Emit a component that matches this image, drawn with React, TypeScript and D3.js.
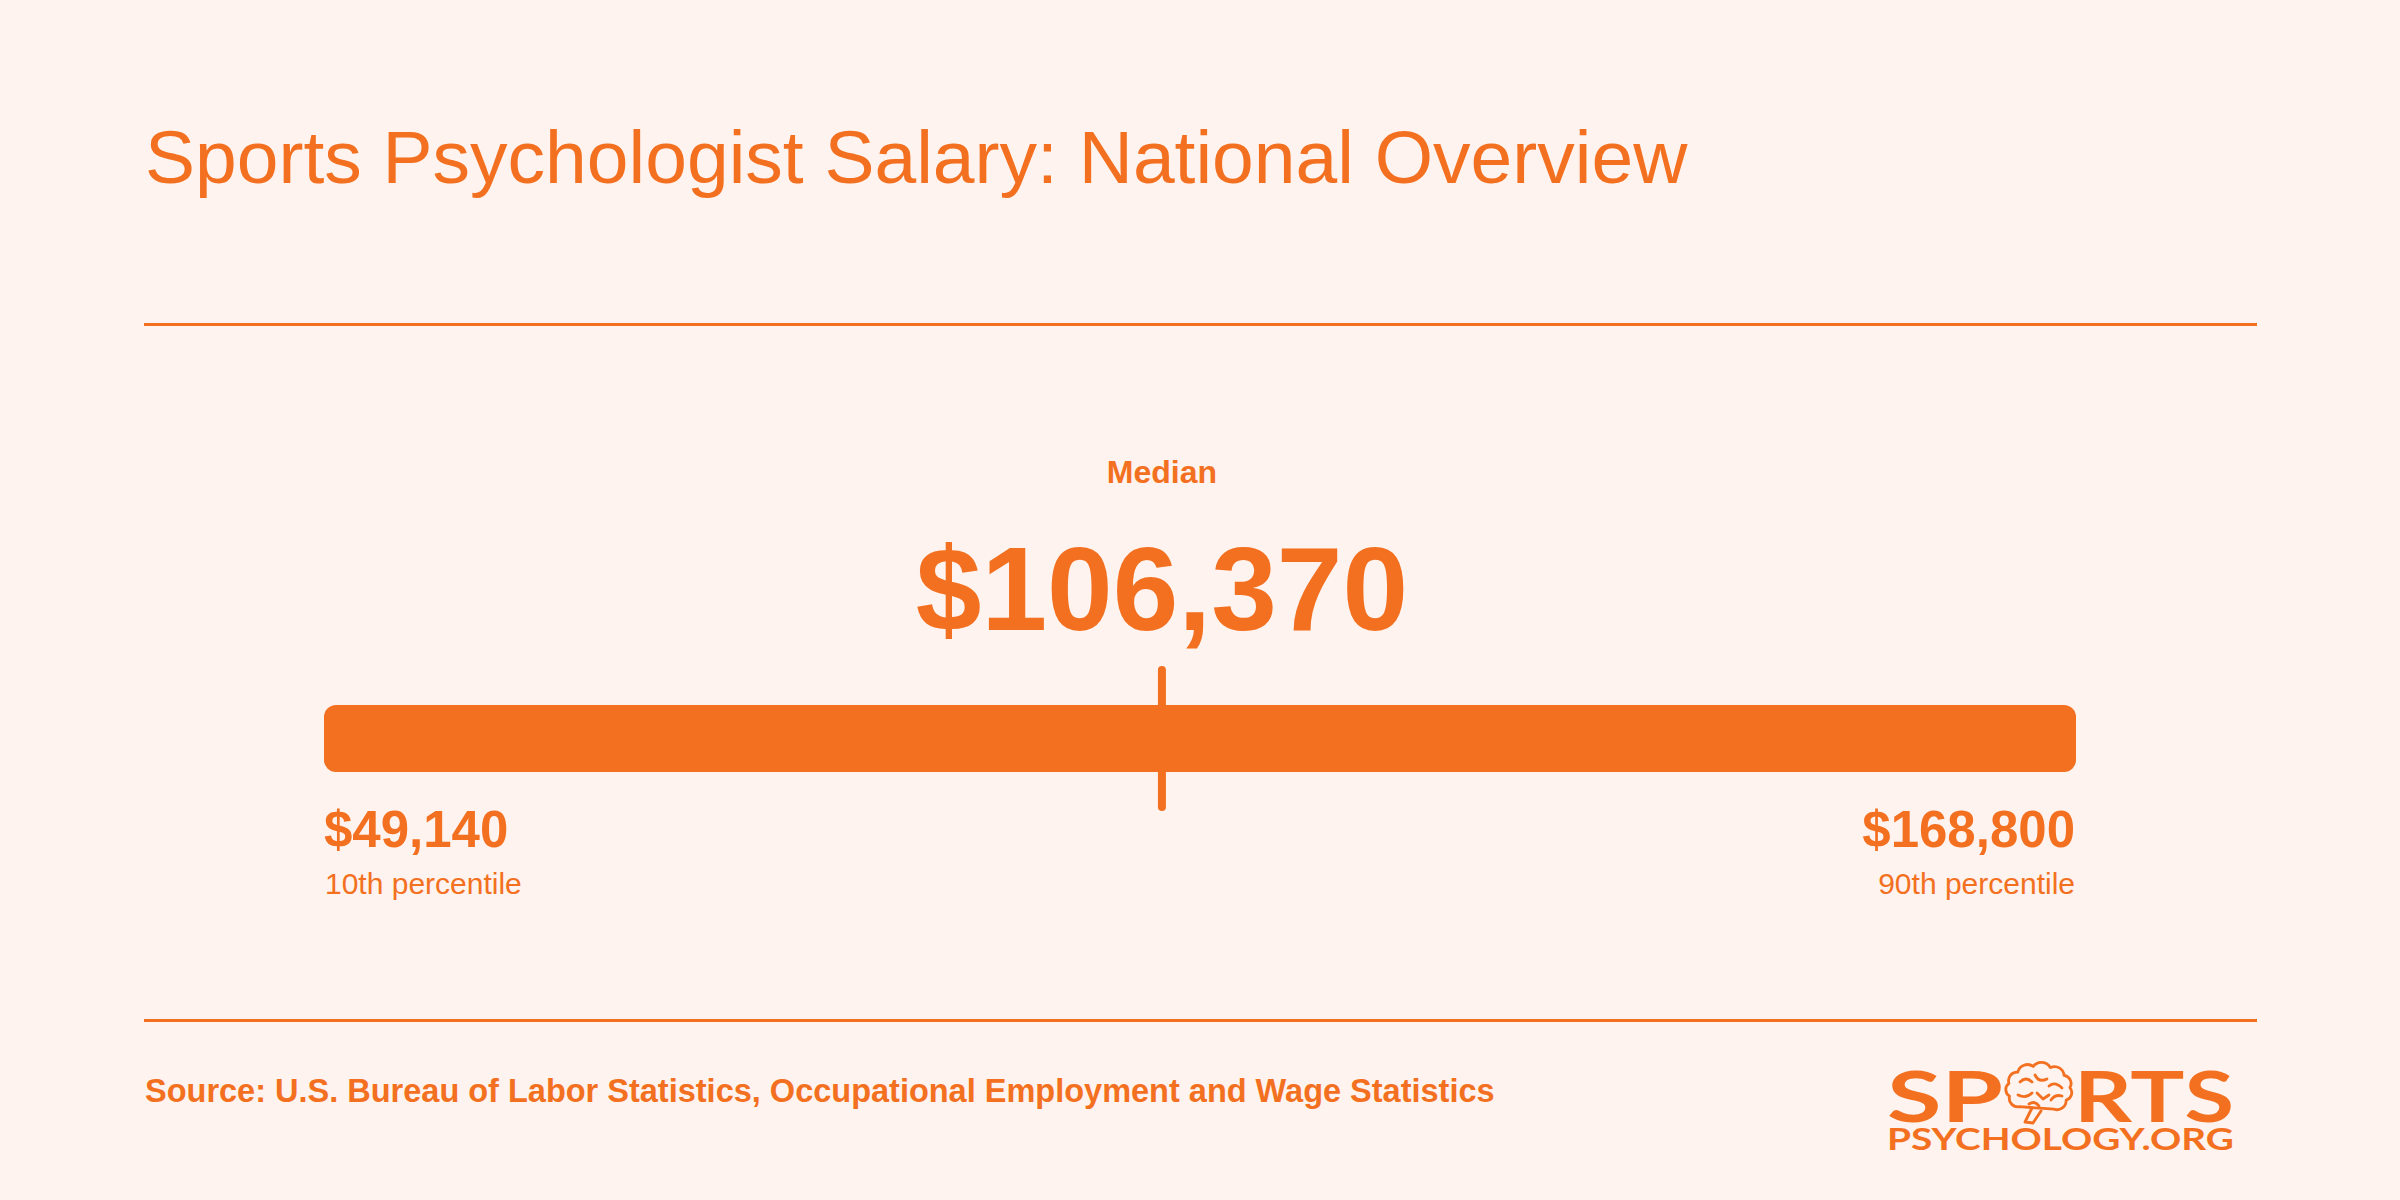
import React from "react";
import * as d3 from "d3";

const title = "Sports Psychologist Salary: National Overview";
const percentileLabels = ["10th percentile", "Median", "90th percentile"];
const salaryValues = [49140, 106370, 168800];
const sourceText = "Source: U.S. Bureau of Labor Statistics, Occupational Employment and Wage Statistics";
const logoTop = ["SP", "RTS"];
const logoBottom = "PSYCHOLOGY.ORG";

const W = 2400;
const H = 1200;
const ORANGE = "#F37021";
const BG = "#FEF3EE";
const FONT = "'Liberation Sans', Arial, Helvetica, sans-serif";
const LOGO_FONT = "Lato, 'DejaVu Sans', sans-serif";

const fmt = d3.format("$,");

function Brain({ cx, cy }: { cx: number; cy: number }) {
  const rx = 31;
  const ry = 23;
  const n = 9;
  const pts: [number, number][] = [];
  for (let i = 0; i <= n; i++) {
    const a = Math.PI * 0.72 + (i / n) * Math.PI * 1.62;
    pts.push([cx + rx * Math.cos(a), cy + ry * Math.sin(a)]);
  }
  let d = `M${pts[0][0]},${pts[0][1]}`;
  for (let i = 1; i < pts.length; i++) {
    const r = Math.hypot(pts[i][0] - pts[i - 1][0], pts[i][1] - pts[i - 1][1]) * 0.6;
    d += ` A${r},${r} 0 0 1 ${pts[i][0]},${pts[i][1]}`;
  }
  const stem = `M${cx - 7},${cy + 19} L${cx - 14},${cy + 33} L${cx - 6},${cy + 34} L${cx + 2},${cy + 22}`;
  const folds = [
    `M${cx - 19},${cy - 7} q6,-6 12,0`,
    `M${cx - 4},${cy - 14} q4,8 12,4`,
    `M${cx + 10},${cy - 3} q6,-5 13,2`,
    `M${cx - 21},${cy + 6} q8,4 14,-2`,
    `M${cx - 2},${cy + 4} l6,6 l6,-4`,
    `M${cx + 12},${cy + 11} q4,-6 11,-4`,
    `M${cx - 10},${cy + 15} q6,-4 10,2`,
  ];
  return (
    <g fill="none" stroke={ORANGE} strokeWidth={2.8} strokeLinejoin="round" strokeLinecap="round">
      <path d={d + " Z"} />
      <path d={stem} />
      {folds.map((f, i) => (
        <path key={i} d={f} />
      ))}
    </g>
  );
}

export default function App() {
  const x = d3
    .scaleLinear()
    .domain([salaryValues[0], salaryValues[2]])
    .range([324, 2076]);
  const barY = 705;
  const barH = 67;
  const medX = x(salaryValues[1]);

  return (
    <svg
      width={W}
      height={H}
      viewBox={`0 0 ${W} ${H}`}
      style={{ position: "fixed", left: 0, top: 0, background: BG }}
    >
      <rect x={0} y={0} width={W} height={H} fill={BG} />
      <text x={145} y={183} fill={ORANGE} fontFamily={FONT} fontSize={75}>
        {title}
      </text>
      <line x1={144} x2={2257} y1={324.5} y2={324.5} stroke={ORANGE} strokeWidth={3} />

      <text
        x={medX}
        y={483}
        textAnchor="middle"
        fill={ORANGE}
        fontFamily={FONT}
        fontWeight={700}
        fontSize={32}
      >
        {percentileLabels[1]}
      </text>
      <text
        x={medX}
        y={630}
        textAnchor="middle"
        fill={ORANGE}
        fontFamily={FONT}
        fontWeight={700}
        fontSize={118}
      >
        {fmt(salaryValues[1])}
      </text>

      <rect
        x={x(salaryValues[0])}
        y={barY}
        width={x(salaryValues[2]) - x(salaryValues[0])}
        height={barH}
        rx={12}
        ry={12}
        fill={ORANGE}
      />
      <line
        x1={medX}
        x2={medX}
        y1={670}
        y2={807}
        stroke={ORANGE}
        strokeWidth={8}
        strokeLinecap="round"
      />

      <text x={x(salaryValues[0])} y={847} fill={ORANGE} fontFamily={FONT} fontWeight={700} fontSize={51}>
        {fmt(salaryValues[0])}
      </text>
      <text x={x(salaryValues[0]) + 1} y={894} fill={ORANGE} fontFamily={FONT} fontSize={30}>
        {percentileLabels[0]}
      </text>
      <text
        x={x(salaryValues[2]) - 1}
        y={847}
        textAnchor="end"
        fill={ORANGE}
        fontFamily={FONT}
        fontWeight={700}
        fontSize={51}
      >
        {fmt(salaryValues[2])}
      </text>
      <text
        x={x(salaryValues[2]) - 1}
        y={894}
        textAnchor="end"
        fill={ORANGE}
        fontFamily={FONT}
        fontSize={30}
      >
        {percentileLabels[2]}
      </text>

      <line x1={144} x2={2257} y1={1020.5} y2={1020.5} stroke={ORANGE} strokeWidth={3} />
      <text x={145} y={1102} fill={ORANGE} fontFamily={FONT} fontWeight={700} fontSize={32.5}>
        {sourceText}
      </text>

      <g>
        <text
          x={1887}
          y={1122}
          fill={ORANGE}
          fontFamily={LOGO_FONT}
          fontWeight={700}
          fontSize={70}
          textLength={116}
          lengthAdjust="spacingAndGlyphs"
        >
          {logoTop[0]}
        </text>
        <Brain cx={2039} cy={1089} />
        <text
          x={2074}
          y={1122}
          fill={ORANGE}
          fontFamily={LOGO_FONT}
          fontWeight={700}
          fontSize={70}
          textLength={160}
          lengthAdjust="spacingAndGlyphs"
        >
          {logoTop[1]}
        </text>
        <text
          x={1887}
          y={1150}
          fill={ORANGE}
          fontFamily={LOGO_FONT}
          fontWeight={700}
          fontSize={30}
          textLength={347}
          lengthAdjust="spacingAndGlyphs"
        >
          {logoBottom}
        </text>
      </g>
    </svg>
  );
}
